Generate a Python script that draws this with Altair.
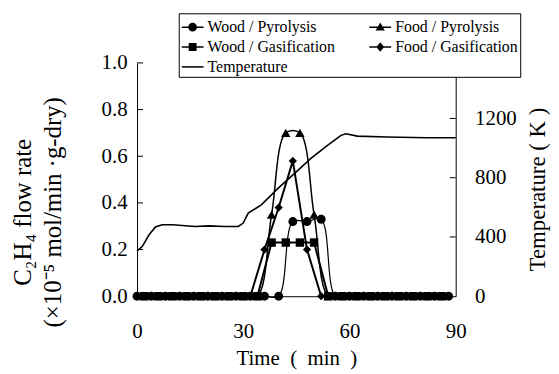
import altair as alt
import pandas as pd

# ---------------- data ----------------
TIME_A = [0, 4, 8, 12, 16, 20, 24, 28, 32, 36, 40, 44, 48, 52, 56, 60, 64, 68, 72, 76, 80, 84, 88]
TIME_B = [2, 6, 10, 14, 18, 22, 26, 30, 34, 38, 42, 46, 50, 54, 58, 62, 66, 70, 74, 78, 82, 86]

WOOD_PYRO = [0, 0, 0, 0, 0, 0, 0, 0, 0, 0, 0, 0.32, 0.32, 0.33, 0, 0, 0, 0, 0, 0, 0, 0, 0]
FOOD_GAS = [0, 0, 0, 0, 0, 0, 0, 0, 0, 0.20, 0.38, 0.58, 0.20, 0, 0, 0, 0, 0, 0, 0, 0, 0, 0]
WOOD_GAS = [0, 0, 0, 0, 0, 0, 0, 0, 0, 0.23, 0.23, 0.23, 0.23, 0, 0, 0, 0, 0, 0, 0, 0, 0]
FOOD_PYRO = [0, 0, 0, 0, 0, 0, 0, 0, 0, 0.35, 0.70, 0.70, 0.35, 0, 0, 0, 0, 0, 0, 0, 0, 0]

TEMP_T = [0, 1.5, 3.4, 5.2, 7.1, 10, 16.4, 20.2, 24.9, 28.6, 30, 31.4, 35.1, 39.8,
          44.5, 49.1, 53.8, 57.6, 59, 62.2, 70.6, 81.9, 90]
TEMP_K = [304, 337, 415, 467, 483, 483, 471, 475, 471, 471, 494, 561, 617, 728,
          829, 930, 1019, 1086, 1097, 1081, 1075, 1070, 1070]

SERIES = ["Wood / Pyrolysis", "Food / Pyrolysis", "Wood / Gasification",
          "Food / Gasification", "Temperature"]
FLOW_TICKS = [0, 0.2, 0.4, 0.6, 0.8, 1.0]
TEMP_TICKS = [0, 400, 800, 1200]
X_TICKS = [0, 30, 60, 90]
FLOW_INNER_TICKS = [0.2, 0.4, 0.6, 0.8, 1.0]
TEMP_INNER_TICKS = [400, 800, 1200]

FONT = "Liberation Serif"
W, H = 321, 235

X_DOMAIN = [0, 90]
FLOW_DOMAIN = [0, 1.0]
TEMP_DOMAIN = [0, 1575]

TXT = dict(labelFont=FONT, titleFont=FONT, labelColor="black", titleColor="black",
           titleFontWeight="normal", labelFontWeight="normal",
           domainColor="black", domainWidth=1, grid=False, ticks=False)

xaxis = alt.Axis(orient="bottom", values=X_TICKS, labelPadding=25,
                 labelFontSize=21, labelFlush=False,
                 title="Time\u2002(\u2002min\u2002)", titleFontSize=21,
                 titleBaseline="alphabetic", titleY=69, **TXT)

flow_axis = alt.Axis(orient="left", values=FLOW_TICKS, format=".1f",
                     labelPadding=10, labelFontSize=21,
                     title=["C₂H₄ flow rate", "(×10⁻⁵ mol/min ·g-dry)"],
                     titleFontSize=25, titleAngle=270, titleAlign="center",
                     titleBaseline="middle", titleX=-115, titleY=150,
                     titleLineHeight=30, **TXT)

temp_axis = alt.Axis(orient="right", values=TEMP_TICKS, format="d",
                     labelPadding=19, labelFontSize=21,
                     title="Temperature ( K )", titleFontSize=23, titleAngle=270,
                     titleAlign="center", titleBaseline="middle", titleX=82,
                     titleY=127, **TXT)


def xs(axis=None):
    return alt.X("t:Q", scale=alt.Scale(domain=X_DOMAIN, nice=False, zero=False),
                 axis=axis)


def ys(field, domain, axis=None):
    return alt.Y(field, scale=alt.Scale(domain=domain, nice=False), axis=axis)


# ---------------- layers ----------------
specs = [
    ("Wood / Pyrolysis", TIME_A, WOOD_PYRO, "circle", 81, 1.2, "catmull-rom"),
    ("Food / Pyrolysis", TIME_B, FOOD_PYRO, "triangle-up", 90, 1.5, "catmull-rom"),
    ("Wood / Gasification", TIME_B, WOOD_GAS, "square", 72, 2.0, "linear"),
    ("Food / Gasification", TIME_A, FOOD_GAS, "diamond", 70, 2.0, "linear"),
]

layers = []
for name, tt, vv, shape, size, sw, interp in specs:
    df = pd.DataFrame({"t": tt, "v": vv, "series": name})
    line = alt.Chart(df).mark_line(color="black", strokeWidth=sw,
                                   interpolate=interp).encode(
        x=xs(), y=ys("v:Q", FLOW_DOMAIN))
    pts = alt.Chart(df).mark_point(filled=True, shape=shape, size=size,
                                   color="black", opacity=1).encode(
        x=xs(), y=ys("v:Q", FLOW_DOMAIN))
    layers += [line, pts]

# left axis carrier + inner ticks
left_ticks = alt.Chart(pd.DataFrame({"v": FLOW_INNER_TICKS})).mark_rule(
    color="black", strokeWidth=1).encode(
    y=ys("v:Q", FLOW_DOMAIN, flow_axis), x=alt.value(0), x2=alt.value(6))

temp_df = pd.DataFrame({"t": TEMP_T, "k": TEMP_K})
temp_line = alt.Chart(temp_df).mark_line(color="black", strokeWidth=1.6).encode(
    x=xs(xaxis), y=ys("k:Q", TEMP_DOMAIN, temp_axis))
right_ticks = alt.Chart(pd.DataFrame({"k": TEMP_INNER_TICKS})).mark_rule(
    color="black", strokeWidth=1).encode(
    y=ys("k:Q", TEMP_DOMAIN), x=alt.value(W - 6), x2=alt.value(W))

# ---------------- legend (symbol = line through marker, all filled) ----------------
LINE = "M-1,-0.07H1V0.07H-1Z"
PATHS = [
    LINE + "M0.4,0A0.4,0.4,0,1,1,-0.4,0A0.4,0.4,0,1,1,0.4,0Z",
    LINE + "M0,-0.42L0.42,0.3L-0.42,0.3Z",
    LINE + "M-0.36,-0.36H0.36V0.36H-0.36Z",
    LINE + "M0,-0.44L0.36,0L0,0.44L-0.36,0Z",
    LINE,
]
legend_layer = alt.Chart(pd.DataFrame({"series": SERIES})).mark_point(
    filled=True, color="black", opacity=0).encode(
    x=alt.value(0), y=alt.value(0),
    shape=alt.Shape("series:N", scale=alt.Scale(domain=SERIES, range=PATHS),
                    legend=alt.Legend(orient="none", legendX=42, legendY=-50,
                                      direction="horizontal",
                                      columns=2, title=None,
                                      labelFont=FONT, labelFontSize=16,
                                      labelFontWeight="normal",
                                      labelColor="black",
                                      symbolSize=484,
                                      symbolFillColor="black",
                                      symbolOpacity=1,
                                      strokeColor="black", fillColor="white",
                                      padding=2, rowPadding=0, columnPadding=31,
                                      labelOffset=3)))

chart = alt.layer(*layers, left_ticks, temp_line, right_ticks, legend_layer).resolve_scale(
    x="independent", y="independent").resolve_legend(shape="independent").properties(
    width=W, height=H,
    padding={"left": 130, "top": 54, "right": 96, "bottom": 74},
    autosize=alt.AutoSizeParams(type="none"),
    background="white",
).configure(font=FONT).configure_view(stroke=None).configure_axis(
    labelFont=FONT, titleFont=FONT, labelColor="black", titleColor="black",
    titleFontWeight="normal", domainColor="black", domainWidth=1,
).configure_legend(labelFont=FONT, labelFontSize=16, labelColor="black")

chart.save("out.html", embed_options={"renderer": "svg", "actions": False})
